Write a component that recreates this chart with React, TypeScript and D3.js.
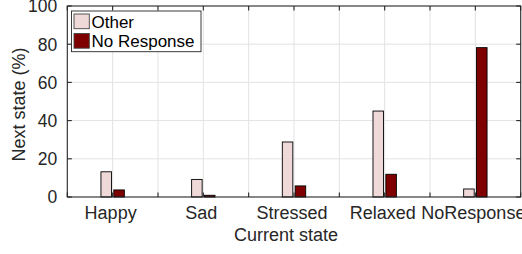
import * as d3 from "d3";

const categories = ["Happy", "Sad", "Stressed", "Relaxed", "NoResponse"];
const otherValues = [13.2, 9.2, 28.8, 45.0, 4.2];
const noResponseValues = [3.7, 0.9, 5.8, 11.9, 78.2];
const yTicks = [0, 20, 40, 60, 80, 100];

const W = 522;
const H = 254;
const MARGIN = { top: 6, right: 1.3, bottom: 57, left: 67.3 };
const FONT = "'Liberation Sans', Arial, Helvetica, sans-serif";
const AXIS = "#262626";
const GRID = "#e3e3e3";
const OTHER_FILL = "#eed8d8";
const NR_FILL = "#7f0000";

export default function App() {
  const x0 = MARGIN.left;
  const x1 = W - MARGIN.right;
  const y0 = H - MARGIN.bottom;
  const y1 = MARGIN.top;

  const xScale = d3.scaleLinear().domain([0.5, categories.length + 0.5]).range([x0, x1]);
  const yScale = d3.scaleLinear().domain([0, 100]).range([y0, y1]);

  const xGrid = d3.range(0.5, categories.length + 0.51, 0.5);
  const barW = xScale(0.116) - xScale(0);
  const off = xScale(0.071) - xScale(0);
  const tick = 4.5;

  const series = [
    { name: "Other", values: otherValues, fill: OTHER_FILL, dx: -off },
    { name: "No Response", values: noResponseValues, fill: NR_FILL, dx: off },
  ];

  return (
    <svg
      width={W}
      height={H}
      style={{ position: "absolute", left: 0, top: 0, background: "#fff" }}
      fontFamily={FONT}
    >
      {/* grid */}
      {xGrid.slice(1, -1).map((v) => (
        <line key={"gx" + v} x1={xScale(v)} x2={xScale(v)} y1={y0} y2={y1} stroke={GRID} strokeWidth={1} />
      ))}
      {yTicks.slice(1, -1).map((v) => (
        <line key={"gy" + v} x1={x0} x2={x1} y1={yScale(v)} y2={yScale(v)} stroke={GRID} strokeWidth={1} />
      ))}

      {/* bars */}
      {series.map((s) =>
        s.values.map((v, i) => {
          const cx = xScale(i + 1) + s.dx;
          return (
            <rect
              key={s.name + i}
              x={cx - barW / 2}
              y={yScale(v)}
              width={barW}
              height={y0 - yScale(v)}
              fill={s.fill}
              stroke="#000"
              strokeWidth={0.9}
            />
          );
        })
      )}

      {/* axes box */}
      <rect x={x0} y={y1} width={x1 - x0} height={y0 - y1} fill="none" stroke={AXIS} strokeWidth={1.1} />

      {/* ticks */}
      {xGrid.map((v) => (
        <g key={"tx" + v}>
          <line x1={xScale(v)} x2={xScale(v)} y1={y0} y2={y0 - tick} stroke={AXIS} strokeWidth={1.1} />
          <line x1={xScale(v)} x2={xScale(v)} y1={y1} y2={y1 + tick} stroke={AXIS} strokeWidth={1.1} />
        </g>
      ))}
      {yTicks.map((v) => (
        <g key={"ty" + v}>
          <line x1={x0} x2={x0 + tick} y1={yScale(v)} y2={yScale(v)} stroke={AXIS} strokeWidth={1.1} />
          <line x1={x1} x2={x1 - tick} y1={yScale(v)} y2={yScale(v)} stroke={AXIS} strokeWidth={1.1} />
          <text x={x0 - 10} y={yScale(v)} dy="0.36em" textAnchor="end" fontSize={17.5} fill={AXIS}>
            {v}
          </text>
        </g>
      ))}

      {/* x labels */}
      {categories.map((c, i) => (
        <text key={c} x={xScale(i + 1) - 2} y={219} textAnchor="middle" fontSize={18} fill={AXIS}>
          {c}
        </text>
      ))}
      <text x={(x0 + x1) / 2 - 8} y={241} textAnchor="middle" fontSize={18} fill={AXIS}>
        Current state
      </text>
      <text
        transform={`translate(25,${(y0 + y1) / 2 + 3}) rotate(-90)`}
        textAnchor="middle"
        fontSize={18}
        fill={AXIS}
      >
        Next state (%)
      </text>

      {/* legend */}
      <g>
        <rect x={71.5} y={11} width={129.5} height={40.7} fill="#fff" stroke={AXIS} strokeWidth={0.9} />
        {series.map((s, i) => (
          <g key={"lg" + s.name} transform={`translate(74,${14 + i * 19.5})`}>
            <rect x={0} y={0} width={15.3} height={14.7} fill={s.fill} stroke="#444" strokeWidth={0.9} />
            <text x={17.5} y={13.5} fontSize={17} fill="#000">
              {s.name}
            </text>
          </g>
        ))}
      </g>
    </svg>
  );
}
